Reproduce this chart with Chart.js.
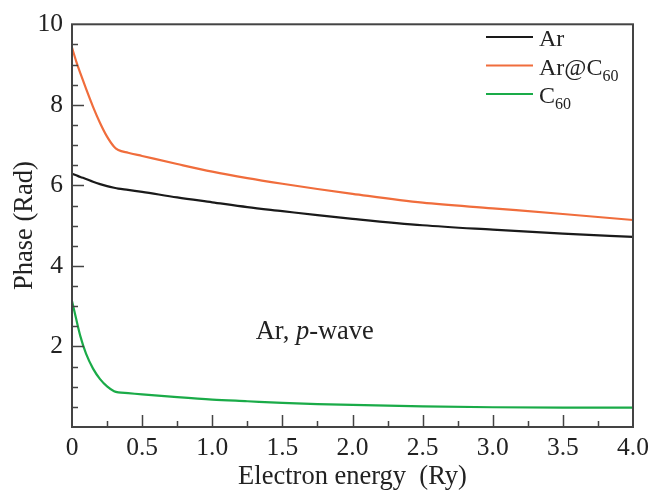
<!DOCTYPE html>
<html>
<head>
<meta charset="utf-8">
<script src="https://cdn.jsdelivr.net/npm/chart.js@4/dist/chart.umd.min.js"></script>
<style>
  body { margin: 0; background: #fff; }
</style>
</head>
<body>
<canvas id="myChart" width="656" height="492"></canvas>
<script>

// electron energy (Ry)
var energy = [0.0, 0.03, 0.06, 0.1, 0.15, 0.2, 0.25, 0.3, 0.33, 0.4, 0.5, 0.75, 1.0, 1.25, 1.5, 1.75, 2.0, 2.5, 3.0, 3.5, 4.0];

// phase shifts (Rad)
var phaseAr    = [6.29, 6.25, 6.21, 6.16, 6.09, 6.03, 5.98, 5.94, 5.92, 5.89, 5.84, 5.70, 5.58, 5.46, 5.36, 5.26, 5.17, 5.01, 4.90, 4.80, 4.72];
var phaseArC60 = [9.42, 9.08, 8.78, 8.40, 7.95, 7.55, 7.21, 6.96, 6.88, 6.81, 6.73, 6.53, 6.34, 6.18, 6.04, 5.91, 5.79, 5.57, 5.43, 5.29, 5.14];
var phaseC60   = [3.13, 2.68, 2.25, 1.82, 1.45, 1.19, 1.01, 0.89, 0.86, 0.84, 0.81, 0.74, 0.68, 0.64, 0.60, 0.57, 0.55, 0.51, 0.49, 0.48, 0.48];

var xTicks = [0, 0.5, 1.0, 1.5, 2.0, 2.5, 3.0, 3.5, 4.0];
var yTicks = [2, 4, 6, 8, 10];

var serif = "'Liberation Serif', 'Times New Roman', serif";

function toPoints(ys) {
  return ys.map((v, i) => { return { x: energy[i], y: v } })
}

// frame with inward ticks, axis titles, legend and the note
var decorations = {
  id: 'decorations',
  afterDraw(chart) {
    let ctx = chart.ctx;
    let a = chart.chartArea;
    let xs = chart.scales.x, ys = chart.scales.y;
    ctx.save();

    // ticks
    ctx.strokeStyle = '#444';
    ctx.lineWidth = 1.5;
    ctx.beginPath();
    for (let i = 1; i < 16; i++) {
      let v = i * 0.25;
      let px = Math.round(xs.getPixelForValue(v)) + 0.5;
      let len = (i % 2 === 0) ? 12 : 6;
      ctx.moveTo(px, a.bottom);
      ctx.lineTo(px, a.bottom - len);
    }
    for (let i = 1; i < 20; i++) {
      let v = i * 0.5;
      let py = Math.round(ys.getPixelForValue(v)) + 0.5;
      let len = (i % 4 === 0) ? 12 : 6;
      ctx.moveTo(a.left, py);
      ctx.lineTo(a.left + len, py);
    }
    ctx.stroke();
    ctx.lineWidth = 2;
    ctx.strokeRect(a.left, a.top, a.right - a.left, a.bottom - a.top);

    // axis titles
    ctx.fillStyle = '#222';
    ctx.font = '26.5px ' + serif;
    ctx.textAlign = 'center';
    ctx.textBaseline = 'alphabetic';
    ctx.fillText('Electron energy  (Ry)', (a.left + a.right) / 2, 484);
    ctx.save();
    ctx.translate(32, (a.top + a.bottom) / 2);
    ctx.rotate(-Math.PI / 2);
    ctx.fillText('Phase (Rad)', 0, 0);
    ctx.restore();

    // note "Ar, p-wave"
    ctx.textAlign = 'left';
    let nx = xs.getPixelForValue(1.31), ny = ys.getPixelForValue(2.18);
    ctx.font = '26.5px ' + serif;
    ctx.fillText('Ar, ', nx, ny);
    nx += ctx.measureText('Ar, ').width;
    ctx.font = 'italic 26.5px ' + serif;
    ctx.fillText('p', nx, ny);
    nx += ctx.measureText('p').width;
    ctx.font = '26.5px ' + serif;
    ctx.fillText('-wave', nx, ny);

    // legend
    let rows = [['Ar', ''], ['Ar@C', '60'], ['C', '60']];
    chart.data.datasets.forEach((ds, i) => {
      let ly = 37 + i * 28.5;
      ctx.strokeStyle = ds.borderColor;
      ctx.lineWidth = 2;
      ctx.beginPath();
      ctx.moveTo(486, ly);
      ctx.lineTo(533, ly);
      ctx.stroke();
      ctx.font = '24px ' + serif;
      ctx.fillText(rows[i][0], 539, ly + 9);
      if (rows[i][1]) {
        let w = ctx.measureText(rows[i][0]).width;
        ctx.font = '16px ' + serif;
        ctx.fillText(rows[i][1], 539 + w, ly + 15);
      }
    });

    ctx.restore();
  }
};

var ctx = document.getElementById('myChart').getContext('2d');
var chartjs = new Chart(ctx, {
  type: 'line',
  data: {
    datasets: [{
      label: 'Ar',
      data: toPoints(phaseAr),
      borderColor: '#1a1a1a',
      borderWidth: 2.2,
      pointRadius: 0,
      fill: false,
      cubicInterpolationMode: 'monotone'
    }, {
      label: 'Ar@C60',
      data: toPoints(phaseArC60),
      borderColor: '#f06d3c',
      borderWidth: 2.2,
      pointRadius: 0,
      fill: false,
      cubicInterpolationMode: 'monotone'
    }, {
      label: 'C60',
      data: toPoints(phaseC60),
      borderColor: '#1aab48',
      borderWidth: 2.2,
      pointRadius: 0,
      fill: false,
      cubicInterpolationMode: 'monotone'
    }]
  },
  options: {
    responsive: false,
    animation: false,
    layout: { padding: { left: 0, top: 15, right: 23, bottom: 0 } },
    plugins: {
      legend: { display: false },
      tooltip: { enabled: false }
    },
    scales: {
      x: {
        type: 'linear',
        min: 0,
        max: 4,
        afterFit: (s) => { s.height = 65 },
        afterBuildTicks: (s) => { s.ticks = xTicks.map((v) => ({ value: v })) },
        grid: { display: false, drawTicks: false },
        border: { display: false },
        ticks: {
          color: '#222',
          padding: 6,
          maxRotation: 0,
          font: { family: serif, size: 25.5 },
          callback: (v) => v === 0 ? '0' : v.toFixed(1)
        }
      },
      y: {
        min: 0,
        max: 10,
        afterFit: (s) => { s.width = 72 },
        afterBuildTicks: (s) => { s.ticks = yTicks.map((v) => ({ value: v })) },
        grid: { display: false, drawTicks: false },
        border: { display: false },
        ticks: {
          color: '#222',
          padding: 9,
          font: { family: serif, size: 25.5 }
        }
      }
    }
  },
  plugins: [decorations]
});

</script>
</body>
</html>
